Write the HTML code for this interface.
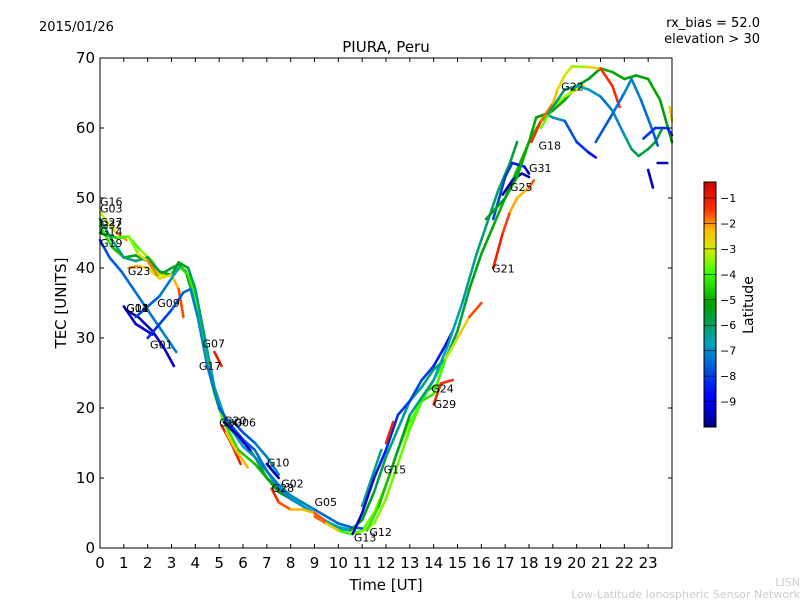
<!DOCTYPE html>
<html><head><meta charset="utf-8"><style>
body{margin:0;background:#fff;}
svg text{font-family:"DejaVu Sans","Liberation Sans",sans-serif;}
</style></head><body>
<svg id="chart" width="800" height="600" xmlns="http://www.w3.org/2000/svg">
<defs>
<linearGradient id="jet" x1="0" y1="1" x2="0" y2="0">
<stop offset="0" stop-color="#00007f"/><stop offset="0.11" stop-color="#0000ff"/><stop offset="0.125" stop-color="#0000ff"/>
<stop offset="0.34" stop-color="#00a0c0"/><stop offset="0.5" stop-color="#00a000"/><stop offset="0.63" stop-color="#40ff00"/>
<stop offset="0.72" stop-color="#ccee00"/><stop offset="0.8" stop-color="#ffc000"/><stop offset="0.89" stop-color="#ff3000"/><stop offset="1" stop-color="#cc0000"/>
</linearGradient>
</defs>
<text x="39" y="31" font-size="13">2015/01/26</text>
<text x="760" y="27" font-size="13" text-anchor="end">rx_bias = 52.0</text>
<text x="760" y="43" font-size="13" text-anchor="end">elevation &gt; 30</text>
<text x="386" y="52" font-size="15" text-anchor="middle">PIURA, Peru</text>
<text x="386" y="590" font-size="15" text-anchor="middle">Time [UT]</text>
<text transform="translate(66,303) rotate(-90)" font-size="15" text-anchor="middle">TEC [UNITS]</text>
<g id="marks"></g>
<g id="labels"></g>
<rect x="100" y="58" width="572" height="490" fill="none" stroke="#000" stroke-width="1"/>
<g id="axes"></g>
<rect x="704" y="182" width="12" height="245" fill="url(#jet)" stroke="#000" stroke-width="1"/>
<g id="cbticks"></g>
<text transform="translate(753,305) rotate(-90)" font-size="14" text-anchor="middle">Latitude</text>
<text x="800" y="586" font-size="11" fill="#ccc" text-anchor="end">LISN</text>
<text x="800" y="598" font-size="11" fill="#ccc" text-anchor="end">Low-Latitude Ionospheric Sensor Network</text>
</svg>
<script>
const xTicks=[0,1,2,3,4,5,6,7,8,9,10,11,12,13,14,15,16,17,18,19,20,21,22,23];
const yTicks=[0,10,20,30,40,50,60,70];
const cbTicks=[-1,-2,-3,-4,-5,-6,-7,-8,-9];
const trackTimes=[
[0,0.5,1,1.5,2,2.5,3,3.3,3.6,4,4.4,4.8,5.2,5.6,6,6.5,7,7.5,8,8.5,9,9.5,10,10.5],
[0,0.7,1.2,1.7,2.2,2.5,3,3.4,3.7,4,4.4,4.8,5.2,5.8,6.5,7,7.5,8,8.5,9,9.5,10,10.5,11,11.5,12,12.5,13,13.5,14,14.5,15],
[0,0.5,1,1.5,2,2.5,3,3.3,3.7,4,4.4,4.8,5.3,6,6.5,7,7.5,8,8.5,9,9.5,10,10.5],
[0,0.4,0.9,1.4,2,2.6,3.2],
[0,0.3,0.7,1.1],
[1.2,1.6,2,2.5,3,3.3,3.5],
[0.8,1.2,1.6,2,2.4],
[1,1.5,2.2],
[1.1,1.6,2.2,2.7,3.1],
[1.5,2,2.5,3,3.3],
[2,2.5,3,3.5,3.8,4.1,4.5,5,5.5,6,6.5,7,7.5,8,8.5,9,9.5,10,10.5,11],
[4.8,5.1],
[5.1,5.5,5.9],
[5.3,5.7,6.2],
[5.2,5.8,6.3],
[5.6,6,6.5,7,7.5],
[7,7.5],
[7.2,7.5,8,8.5,9,9.4],
[9,9.5,10],
[10.5,11,11.5,12,12.5,13,13.5,14,14.5,15,15.5,16,16.5,17,17.5,18,18.5,19,19.5,20,20.5,21,21.5,22,22.5,23,23.5,24],
[10.8,11.5,12,12.5,13,13.5,14,14.5,15,15.5,16],
[11,11.5,11.8],
[10.6,11,11.5,12,12.5,13,13.5,14,14.5,14.8],
[12,12.3],
[13.7,14.2],
[14,14.3,14.8],
[11.2,11.7,12.2,13,14,14.6,15.2,15.8,16.3,16.7,17.2,17.5],
[16.5,16.9,17.2,17.5,18,18.2],
[16.5,17,17.3,17.8,18],
[16.9,17.3,17.7,18],
[16.2,17,17.5,18,18.3,18.7,19,19.5,20,20.5,20.8],
[18.1,18.5,19,19.2,19.5,19.8,20.5,21,21.5,21.8],
[18.5,19,19.5,20,20.3],
[18.8,19.2,19.5,20,20.5,21,21.5,22,22.3,22.6,23,23.3,23.6],
[20.8,21.5,22,22.3,22.7,23.2,23.4],
[22.8,23.3,23.8,24],
[23.4,23.8],
[23,23.2],
[23.9,24]
];
const trackTec=[
[46,43,41.5,41.8,41,39,40,40.5,39.5,35,28,22,18,16.5,15.5,13,10,8.5,7.5,6,5,3.5,2.8,2.5],
[45,44.3,44.5,42.5,41,39,39,40,39,36,29,22,18,14,12,10,8,7,6,5,3.5,2.5,2,2.5,5,9,14,18,21,24,27,30],
[47,44,41.5,41,41.5,39.5,39,40.8,40,37,30,23,18,14.5,13,11,8.5,7,6,5,3.8,3,2.6],
[44,41.5,39.5,37,34,31,28],
[48,46.5,45,44],
[40,40.3,40,38.5,39,37,33],
[44.3,44.5,42,41,39],
[34.5,32,30.5],
[34,33,31,28.5,26],
[33,34.5,36,38.5,40],
[30,32,34,36.5,37,33,26,20,17.5,15.5,14,11,9,7.5,6.5,5.5,4.5,3.5,3,2.8],
[28,26],
[17.5,15,12],
[16.5,14,11.5],
[18,16,14],
[18,16.5,15,13,10.5],
[12,10],
[8.5,6.5,5.5,5.5,5,4],
[4.5,3.5,2.5],
[2.5,4,8,13,17,21,23,25.5,27,31,37,42,46,50,54,58,61,62.5,64,66,67,68.5,68,67,67.5,67,64,58],
[2,3.5,7,12,17,21,22,27,30,33,35],
[6,11,14],
[2,5,10,14,19,21,24,26,29,31],
[15,18],
[22.5,23.2],
[20.5,23.5,24],
[2.5,6,11,19,24,29,35,42,47,51,55,58],
[40,45,48,50,51.5,52.5],
[47,53,55,54.5,53.5],
[50.5,52.5,53.5,53],
[47,50,53,58,61.5,62,61.5,61,58,56.5,55.8],
[58,61,63.5,65.5,67.5,68.8,68.7,68.5,66,63],
[60,63,64.5,65.5,66],
[62,64,65.5,66,65.5,64.5,62.5,59,57,56,57,58,60],
[58,62,65,67,64,59.5,57.5],
[58.5,60,60,59],
[55,55],
[54,51.5],
[63,61]
];
const trackLat=[
[-4,-4.5,-5,-5.5,-5.5,-5.8,-5.5,-5.8,-5.5,-5.2,-5,-4.8,-4.6,-4.8,-5,-5.5,-6,-6.2,-6.5,-6.5,-6.3,-6.5,-6.5,-6.5],
[-5,-4.5,-4.2,-3.8,-3,-2.8,-3.5,-4.5,-4.2,-4,-3.8,-3.6,-4.2,-4.5,-4.8,-5,-5.2,-5.5,-5.2,-5,-4.5,-4.2,-4,-3.8,-3.6,-3.5,-3.5,-3.7,-4,-4.2,-3.5,-3],
[-6,-6.2,-6.3,-6.2,-6,-5.5,-5.2,-5.3,-5.6,-6,-6.3,-6.5,-6.5,-6.8,-7,-7,-7.2,-7,-6.8,-6.5,-6.5,-6.5,-6.8],
[-8,-7.8,-7.5,-7.5,-7.3,-7.3,-7],
[-3,-3.2,-2.5,-1.5],
[-1.5,-2.3,-2.8,-3,-2.5,-2,-1.2],
[-4.2,-3.8,-3.2,-2.3,-1.5],
[-9.5,-9.3,-9.2],
[-9.8,-9.5,-9.4,-9.3,-9.2],
[-8,-7.8,-7.5,-7,-6.5],
[-8.5,-8.2,-7.8,-7.6,-7.4,-7,-7,-7.5,-8,-8,-7.5,-7.3,-7.2,-7,-7,-7.3,-7.5,-7.5,-7.5,-7.5],
[-1,-1.2],[-1,-1,-1.3],[-2.5,-2.5,-2],[-9.5,-9.5,-9],[-8,-8,-7.5,-7,-7],[-9.5,-9.5],
[-1.3,-1.3,-2,-2.5,-2,-1.3],[-1.5,-2,-3],
[-5,-5.2,-5.5,-6,-6.3,-6.5,-6.3,-6,-5.8,-5.8,-5.5,-5.2,-5,-5,-5,-4.8,-4.8,-5,-5.3,-5.5,-5.5,-5,-5,-5.2,-5.3,-5.2,-5,-5.5],
[-3.5,-3.5,-3.6,-3.6,-3.8,-4,-4.5,-3.5,-3,-2,-1.2],
[-6.3,-6.3,-6.3],
[-9.6,-9.4,-8.8,-8.5,-8.3,-8,-8,-8.2,-9,-9.5],
[-1.2,-1.2],[-4.5,-4.5],[-1,-1.3,-1.5],
[-4,-4.5,-5,-6,-6.5,-6.8,-6.5,-6.2,-6,-6,-5.8,-5.5],
[-1,-1.2,-1.8,-2.5,-2,-1.3],
[-8,-8,-8.2,-9,-9.5],
[-9.8,-9.6,-9.5,-9.5],
[-5.5,-5.3,-5,-5,-5.2,-5.5,-6.5,-7.5,-8,-8.5,-9.2],
[-1.2,-1.5,-2,-2.5,-3,-3.2,-3.5,-1.5,-1.2,-1.3],
[-3.8,-3.5,-3.3,-3.2,-3],
[-6,-6,-6.2,-6.5,-6.8,-7,-7.5,-6.5,-6,-5.8,-5.5,-5.5,-6],
[-8,-7.5,-7.2,-7,-7.3,-7.5,-8],
[-8,-8.3,-8.3,-8.5],[-9.5,-9.5],[-9.3,-9.5],[-2.5,-2.8]
];
const labelNames=["G16","G03","G27","G32","G14","G19","G23","G04","G11","G09","G01","G07","G17","G30","G20","G06","G10","G02","G28","G05","G13","G12","G15","G24","G29","G21","G25","G31","G18","G22"];
const labelT=[0,0,0,0,0,0,1.17,1.1,1.1,2.4,2.1,4.3,4.15,5.0,5.2,5.6,7.0,7.6,7.2,9.0,10.65,11.3,11.9,13.9,14.0,16.45,17.2,18.0,18.4,19.35];
const labelV=[49.5,48.5,46.6,46.2,45.2,43.6,39.6,34.3,34.3,35,29.1,29.2,26,17.9,18.2,17.9,12.2,9.2,8.6,6.6,1.5,2.3,11.2,22.8,20.6,39.9,51.6,54.3,57.5,65.9];

const NS='http://www.w3.org/2000/svg';
const X0=100,X1=672,Y0=548,Y1=58;
function xs(t){return X0+t*(X1-X0)/24;}
function ys(v){return Y0-v*(Y0-Y1)/70;}
const LMIN=-10,LMAX=-0.37;
function cbY(l){return 427-(l-LMIN)/(LMAX-LMIN)*245;}
const STOPS=[[0,[0,0,127]],[0.11,[0,0,255]],[0.34,[0,160,192]],[0.5,[0,160,0]],[0.63,[64,255,0]],[0.72,[204,238,0]],[0.8,[255,192,0]],[0.89,[255,48,0]],[1,[204,0,0]]];
function jet(l){
  let v=(l-LMIN)/(LMAX-LMIN);v=Math.max(0,Math.min(1,v));
  for(let i=0;i<STOPS.length-1;i++){
    const a=STOPS[i],b=STOPS[i+1];
    if(v<=b[0]){const f=(v-a[0])/(b[0]-a[0]);
      return 'rgb('+a[1].map(function(c,j){return Math.round(c+(b[1][j]-c)*f);}).join(',')+')';}
  }
  return 'rgb(204,0,0)';
}
const marks=document.getElementById('marks');
trackTimes.forEach(function(ts,i){
  const g=document.createElementNS(NS,'g');
  
  
  for(let k=0;k<ts.length-1;k++){
    const ln=document.createElementNS(NS,'line');
    
    
    ln.setAttribute('x1',xs(ts[k]));ln.setAttribute('y1',ys(trackTec[i][k]));
    ln.setAttribute('x2',xs(ts[k+1]));ln.setAttribute('y2',ys(trackTec[i][k+1]));
    ln.setAttribute('stroke',jet((trackLat[i][k]+trackLat[i][k+1])/2));
    ln.setAttribute('stroke-width','2.6');ln.setAttribute('stroke-linecap','round');
    g.appendChild(ln);
  }
  marks.appendChild(g);
});
const labels=document.getElementById('labels');
labelNames.forEach(function(n,i){
  const t=document.createElementNS(NS,'text');
  
  
  t.setAttribute('x',xs(labelT[i]));t.setAttribute('y',ys(labelV[i])+4);
  t.setAttribute('font-size','11');t.textContent=n;labels.appendChild(t);
});
const axes=document.getElementById('axes');
xTicks.forEach(function(v){
  const x=xs(v);
  [[Y0,Y0-4],[Y1,Y1+4]].forEach(function(p){
    const l=document.createElementNS(NS,'line');
    
    
    l.setAttribute('x1',x);l.setAttribute('x2',x);l.setAttribute('y1',p[0]);l.setAttribute('y2',p[1]);l.setAttribute('stroke','#000');axes.appendChild(l);
  });
  const t=document.createElementNS(NS,'text');
  
  
  t.setAttribute('x',x);t.setAttribute('y',568);t.setAttribute('font-size','15');t.setAttribute('text-anchor','middle');t.textContent=v;axes.appendChild(t);
});
yTicks.forEach(function(v){
  const y=ys(v);
  [[X0,X0+4],[X1,X1-4]].forEach(function(p){
    const l=document.createElementNS(NS,'line');
    
    
    l.setAttribute('x1',p[0]);l.setAttribute('x2',p[1]);l.setAttribute('y1',y);l.setAttribute('y2',y);l.setAttribute('stroke','#000');axes.appendChild(l);
  });
  const t=document.createElementNS(NS,'text');
  
  
  t.setAttribute('x',95);t.setAttribute('y',y+5);t.setAttribute('font-size','15');t.setAttribute('text-anchor','end');t.textContent=v;axes.appendChild(t);
});
const cbt=document.getElementById('cbticks');
cbTicks.forEach(function(v){
  const y=cbY(v);
  const l=document.createElementNS(NS,'line');
  
  
  l.setAttribute('x1',704);l.setAttribute('x2',716);l.setAttribute('y1',y);l.setAttribute('y2',y);l.setAttribute('stroke','#000');l.setAttribute('stroke-width','0.6');cbt.appendChild(l);
  const t=document.createElementNS(NS,'text');
  
  
  t.setAttribute('x',720);t.setAttribute('y',y+4);t.setAttribute('font-size','11');t.textContent='\u2212'+Math.abs(v);cbt.appendChild(t);
});
</script>
</body></html>
